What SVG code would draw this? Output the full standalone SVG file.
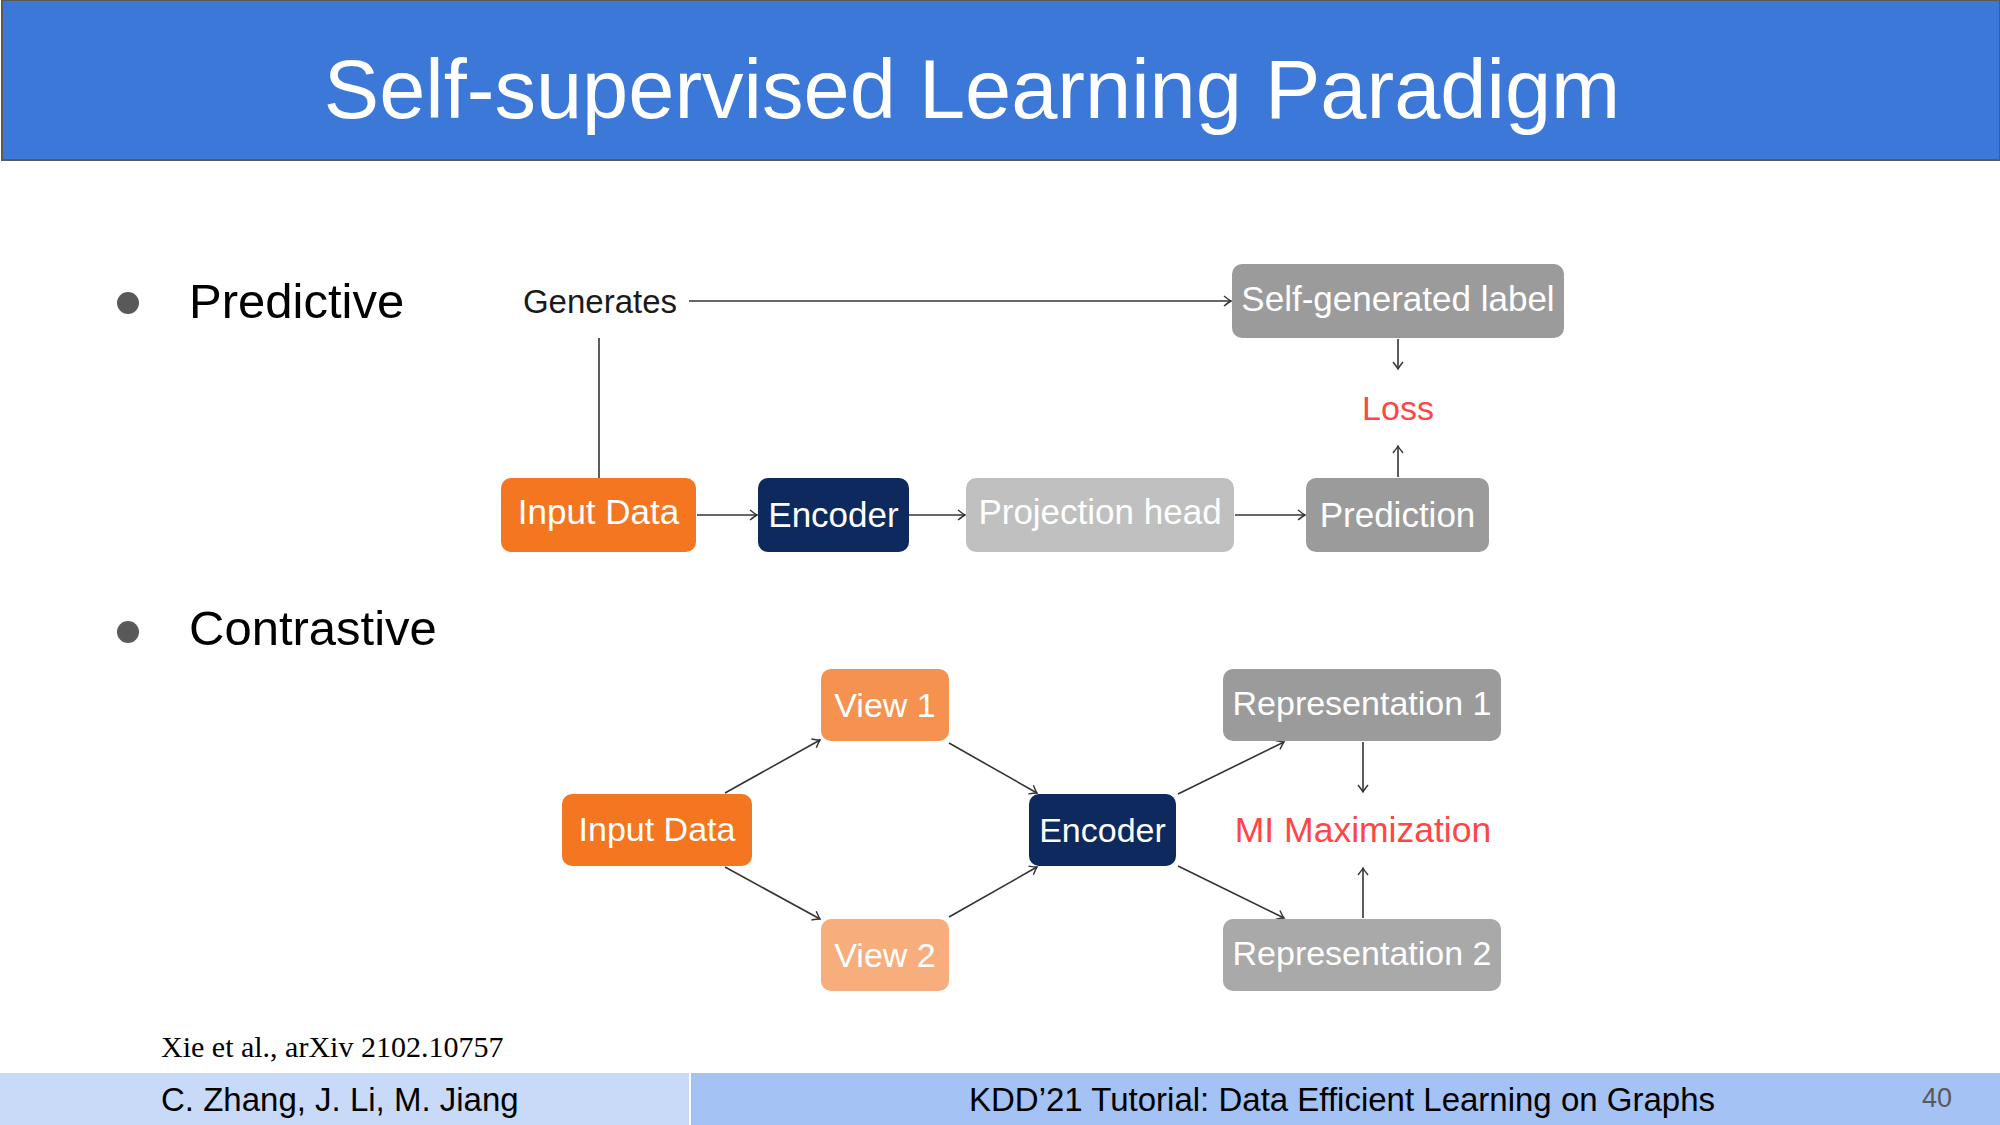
<svg xmlns="http://www.w3.org/2000/svg" width="2000" height="1125" viewBox="0 0 2000 1125">
  <defs>
    <style>
      .title { font-family: "Liberation Sans", Arial, sans-serif; font-size: 83px; fill: #ffffff; text-anchor: middle; }
      .bullet-text { font-family: "Liberation Sans", Arial, sans-serif; font-size: 49px; fill: #000000; }
      .bullet { fill: #595959; }
      .node-text { font-family: "Liberation Sans", Arial, sans-serif; font-size: 35px; fill: #ffffff; text-anchor: middle; }
      .node-text-s { font-family: "Liberation Sans", Arial, sans-serif; font-size: 34px; fill: #ffffff; text-anchor: middle; }
      .plain { font-family: "Liberation Sans", Arial, sans-serif; font-size: 33px; fill: #1a1a1a; text-anchor: middle; }
      .red { font-family: "Liberation Sans", Arial, sans-serif; font-size: 34px; fill: #ff4545; text-anchor: middle; }
      .edge { stroke: #333333; stroke-width: 1.6; fill: none; marker-end: url(#to); }
      .edge-plain { stroke: #333333; stroke-width: 1.6; fill: none; }
      .footer { font-family: "Liberation Sans", Arial, sans-serif; font-size: 33px; fill: #000000; }
      .page { font-family: "Liberation Sans", Arial, sans-serif; font-size: 27px; fill: #595959; text-anchor: middle; }
      .cite { font-family: "Liberation Serif", "Times New Roman", serif; font-size: 30px; fill: #000000; }
    </style>
    <!-- TikZ-style open "to" arrowhead -->
    <marker id="to" viewBox="-10 -6 12 12" refX="0" refY="0" markerWidth="12" markerHeight="12" markerUnits="userSpaceOnUse" orient="auto">
      <path d="M -7 -5 Q -2 -1 0 0 Q -2 1 -7 5" fill="none" stroke="#333333" stroke-width="1.4"/>
    </marker>
  </defs>

  <rect x="0" y="0" width="2000" height="1125" fill="#ffffff"/>

  <!-- Title band -->
  <g id="header">
    <rect x="2" y="0" width="1998" height="160" fill="#3c78d8" stroke="#5a5a5a" stroke-width="2"/>
    <text class="title" x="972" y="118">Self-supervised Learning Paradigm</text>
  </g>

  <!-- Bullets -->
  <g id="bullets">
    <circle class="bullet" cx="128" cy="303" r="11"/>
    <text class="bullet-text" x="189" y="318">Predictive</text>
    <circle class="bullet" cx="128" cy="632" r="11"/>
    <text class="bullet-text" x="189" y="645">Contrastive</text>
  </g>

  <!-- Connectors -->
  <g id="connectors">
    <!-- predictive -->
    <line class="edge-plain" x1="599" y1="478" x2="599" y2="338"/>
    <line class="edge" x1="689" y1="301" x2="1231" y2="301"/>
    <line class="edge" x1="1398" y1="339" x2="1398" y2="369"/>
    <line class="edge" x1="1398" y1="477" x2="1398" y2="446"/>
    <line class="edge" x1="697" y1="515" x2="757" y2="515"/>
    <line class="edge" x1="909" y1="515" x2="965" y2="515"/>
    <line class="edge" x1="1235" y1="515" x2="1305" y2="515"/>
    <!-- contrastive -->
    <line class="edge" x1="725" y1="793" x2="820" y2="740"/>
    <line class="edge" x1="725" y1="867" x2="820" y2="919"/>
    <line class="edge" x1="949" y1="743" x2="1037" y2="793"/>
    <line class="edge" x1="949" y1="917" x2="1037" y2="867"/>
    <line class="edge" x1="1178" y1="794" x2="1284" y2="742"/>
    <line class="edge" x1="1178" y1="866" x2="1284" y2="918"/>
    <line class="edge" x1="1363" y1="742" x2="1363" y2="792"/>
    <line class="edge" x1="1363" y1="918" x2="1363" y2="868"/>
  </g>

  <!-- Predictive nodes -->
  <g id="generates">
    <text class="plain" x="600" y="313">Generates</text>
  </g>
  <g id="self-generated-label">
    <rect x="1232" y="264" width="332" height="74" rx="10" fill="#9b9b9b"/>
    <text class="node-text" x="1398" y="311" font-size="34">Self-generated label</text>
  </g>
  <g id="loss">
    <text class="red" x="1398" y="420">Loss</text>
  </g>
  <g id="p-input-data">
    <rect x="501" y="478" width="195" height="74" rx="10" fill="#f47621"/>
    <text class="node-text" x="598.5" y="524">Input Data</text>
  </g>
  <g id="p-encoder">
    <rect x="758" y="478" width="151" height="74" rx="10" fill="#0e295d"/>
    <text class="node-text" x="833.5" y="527">Encoder</text>
  </g>
  <g id="projection-head">
    <rect x="966" y="478" width="268" height="74" rx="10" fill="#c0c0c0"/>
    <text class="node-text" x="1100" y="524">Projection head</text>
  </g>
  <g id="prediction">
    <rect x="1306" y="478" width="183" height="74" rx="10" fill="#9b9b9b"/>
    <text class="node-text" x="1397.5" y="527">Prediction</text>
  </g>

  <!-- Contrastive nodes -->
  <g id="c-input-data">
    <rect x="562" y="794" width="190" height="72" rx="10" fill="#f47621"/>
    <text class="node-text-s" x="657" y="841">Input Data</text>
  </g>
  <g id="view-1">
    <rect x="821" y="669" width="128" height="72" rx="10" fill="#f5924f"/>
    <text class="node-text-s" x="885" y="717">View 1</text>
  </g>
  <g id="view-2">
    <rect x="821" y="919" width="128" height="72" rx="10" fill="#f8ae7c"/>
    <text class="node-text-s" x="885" y="967">View 2</text>
  </g>
  <g id="c-encoder">
    <rect x="1029" y="794" width="147" height="72" rx="10" fill="#0e295d"/>
    <text class="node-text-s" x="1102.5" y="842">Encoder</text>
  </g>
  <g id="representation-1">
    <rect x="1223" y="669" width="278" height="72" rx="10" fill="#9b9b9b"/>
    <text class="node-text-s" x="1362" y="715">Representation 1</text>
  </g>
  <g id="representation-2">
    <rect x="1223" y="919" width="278" height="72" rx="10" fill="#a9a9a9"/>
    <text class="node-text-s" x="1362" y="965">Representation 2</text>
  </g>
  <g id="mi-maximization">
    <text class="red" x="1363" y="842" style="font-size:35.5px">MI Maximization</text>
  </g>

  <!-- Citation and footer -->
  <g id="footer">
    <text class="cite" x="161" y="1057">Xie et al., arXiv 2102.10757</text>
    <rect x="0" y="1073" width="689" height="52" fill="#c9daf8"/>
    <rect x="691" y="1073" width="1309" height="52" fill="#a4c2f4"/>
    <text class="footer" x="161" y="1111">C. Zhang, J. Li, M. Jiang</text>
    <text class="footer" x="1342" y="1111" text-anchor="middle">KDD’21 Tutorial: Data Efficient Learning on Graphs</text>
    <text class="page" x="1937" y="1107">40</text>
  </g>
</svg>
